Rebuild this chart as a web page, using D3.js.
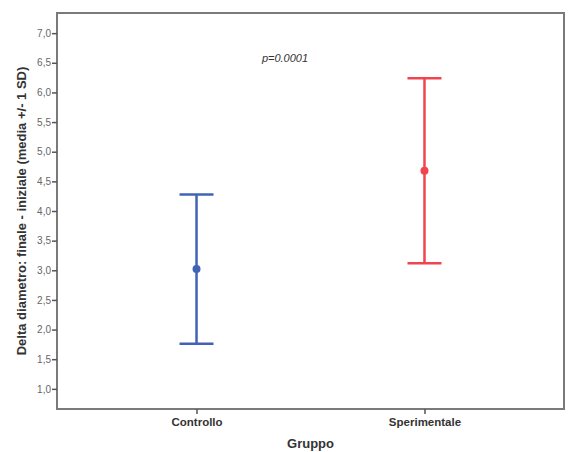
<!DOCTYPE html>
<html>
<head>
<meta charset="utf-8">
<script src="https://cdn.jsdelivr.net/npm/d3@7"></script>
<style>
  body { margin: 0; background: #fff; }
  svg { font-family: "Liberation Sans", Arial, sans-serif; }
</style>
</head>
<body>
<div id="chart"></div>
<script>
// data
const groups = ["Controllo", "Sperimentale"];
const means = [3.02, 4.68];
const upper = [4.28, 6.24];
const lower = [1.76, 3.12];
const colors = ["#4063b8", "#f0444e"];
const yTicks = [1.0, 1.5, 2.0, 2.5, 3.0, 3.5, 4.0, 4.5, 5.0, 5.5, 6.0, 6.5, 7.0];
const pText = "p=0.0001";

const W = 569, H = 452;
const margin = { top: 13, right: 5, bottom: 43, left: 57 };
const width = W - margin.left - margin.right;
const height = H - margin.top - margin.bottom;

const svg = d3.select("#chart").append("svg")
    .attr("width", W)
    .attr("height", H);

const g = svg.append("g")
    .attr("transform", `translate(${margin.left},${margin.top})`);

const x = d3.scalePoint()
    .domain(groups)
    .range([0, width])
    .padding(0.612);

const y = d3.scaleLinear()
    .domain([0.66, 7.34])
    .range([height, 0]);

// frame
g.append("rect")
    .attr("width", width)
    .attr("height", height)
    .attr("fill", "none")
    .attr("stroke", "#7a7a7a")
    .attr("stroke-width", 2);

// y axis
const yAxis = g.append("g")
    .call(d3.axisLeft(y).tickValues(yTicks).tickSize(5).tickFormat(d => d3.format(".1f")(d).replace(".", ",")));
yAxis.select(".domain").remove();
yAxis.selectAll(".tick line").attr("stroke", "#555").attr("stroke-width", 1.5);
yAxis.selectAll(".tick text")
    .attr("x", -6)
    .attr("fill", "#666")
    .style("font-size", "10px");

// x axis
const xAxis = g.append("g")
    .attr("transform", `translate(0,${height})`)
    .call(d3.axisBottom(x).tickSize(5));
xAxis.select(".domain").remove();
xAxis.selectAll(".tick line").attr("stroke", "#555").attr("stroke-width", 1.5);
xAxis.selectAll(".tick text")
    .attr("y", 9)
    .attr("fill", "#333")
    .style("font-size", "11.5px")
    .style("font-weight", "bold");

// error bars
const capW = 17;
const bars = g.selectAll(".bar")
    .data(groups)
    .join("g")
    .attr("class", "bar");

bars.append("line")
    .attr("x1", d => x(d)).attr("x2", d => x(d))
    .attr("y1", (d, i) => y(upper[i]))
    .attr("y2", (d, i) => y(lower[i]))
    .attr("stroke", (d, i) => colors[i])
    .attr("stroke-width", 2.5);

bars.append("line")
    .attr("x1", d => x(d) - capW).attr("x2", d => x(d) + capW)
    .attr("y1", (d, i) => y(upper[i])).attr("y2", (d, i) => y(upper[i]))
    .attr("stroke", (d, i) => colors[i])
    .attr("stroke-width", 2.5);

bars.append("line")
    .attr("x1", d => x(d) - capW).attr("x2", d => x(d) + capW)
    .attr("y1", (d, i) => y(lower[i])).attr("y2", (d, i) => y(lower[i]))
    .attr("stroke", (d, i) => colors[i])
    .attr("stroke-width", 2.5);

bars.append("circle")
    .attr("cx", d => x(d))
    .attr("cy", (d, i) => y(means[i]))
    .attr("r", 4)
    .attr("fill", (d, i) => colors[i]);

// p value
g.append("text")
    .attr("x", 228)
    .attr("y", 49)
    .attr("text-anchor", "middle")
    .attr("fill", "#333")
    .style("font-size", "11px")
    .style("font-style", "italic")
    .text(pText);

// axis titles
svg.append("text")
    .attr("transform", `translate(26,${margin.top + height / 2}) rotate(-90)`)
    .attr("text-anchor", "middle")
    .attr("fill", "#333")
    .style("font-size", "13px")
    .style("font-weight", "bold")
    .text("Delta diametro: finale - iniziale (media +/- 1 SD)");

svg.append("text")
    .attr("x", margin.left + width / 2)
    .attr("y", 448)
    .attr("text-anchor", "middle")
    .attr("fill", "#333")
    .style("font-size", "13px")
    .style("font-weight", "bold")
    .text("Gruppo");
</script>
</body>
</html>
